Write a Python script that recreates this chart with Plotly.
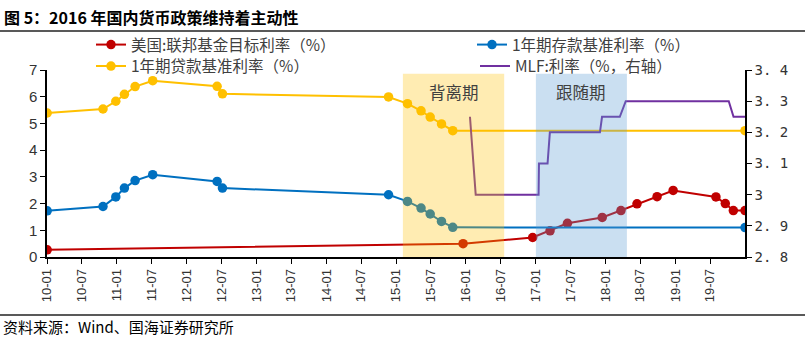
import plotly.graph_objects as go
import pandas as pd

# ---------------- data ----------------
fed_dates = ["2010-01-01", "2015-12-17", "2016-12-15", "2017-03-16", "2017-06-15",
             "2017-12-14", "2018-03-22", "2018-06-14", "2018-09-27", "2018-12-20",
             "2019-08-01", "2019-09-19", "2019-10-31", "2019-12-31"]
fed_rate = [0.27, 0.50, 0.73, 0.98, 1.26, 1.48, 1.74, 1.99, 2.26, 2.49, 2.25, 2.00, 1.74, 1.74]

cn_dates = ["2010-01-01", "2010-10-20", "2010-12-26", "2011-02-09", "2011-04-06",
            "2011-07-07", "2012-06-08", "2012-07-06", "2014-11-22", "2015-03-01",
            "2015-05-11", "2015-06-28", "2015-08-26", "2015-10-24", "2019-12-31"]
deposit_rate = [1.73, 1.89, 2.25, 2.58, 2.86, 3.08, 2.83, 2.58, 2.33, 2.08, 1.83, 1.61, 1.33, 1.11, 1.10]
loan_rate = [5.39, 5.54, 5.83, 6.09, 6.38, 6.60, 6.39, 6.11, 5.99, 5.74, 5.47, 5.24, 4.98, 4.73, 4.73]

mlf_dates = ["2016-01-22", "2016-02-21", "2017-01-15", "2017-01-17", "2017-03-03",
             "2017-03-15", "2017-12-02", "2017-12-13", "2018-03-16", "2018-04-16",
             "2019-10-07", "2019-11-01", "2019-12-31"]
mlf_rate = [3.25, 3.00, 3.00, 3.10, 3.10, 3.20, 3.20, 3.25, 3.25, 3.30, 3.30, 3.25, 3.25]

period_names = ["背离期", "跟随期"]
period_start = ["2015-02-05", "2017-01-01"]
period_end = ["2016-07-19", "2018-04-22"]

right_ticks = [2.8, 2.9, 3.0, 3.1, 3.2, 3.3, 3.4]
right_labels = ["2. 8", "2. 9", "3", "3. 1", "3. 2", "3. 3", "3. 4"]

series_names = ["美国:联邦基金目标利率（%）", "1年期贷款基准利率（%）",
                "1年期存款基准利率（%）", "MLF:利率（%，右轴）"]

RED, YEL, BLU, PUR = "#C00000", "#FFC000", "#0070C0", "#7030A0"
CJK = "Noto Sans CJK SC"

fig = go.Figure()
fig.add_trace(go.Scatter(x=fed_dates, y=fed_rate, name=series_names[0], mode="lines+markers",
                         line=dict(color=RED, width=2), marker=dict(size=9.5, color=RED),
                         legend="legend"))
fig.add_trace(go.Scatter(x=cn_dates, y=loan_rate, name=series_names[1], mode="lines+markers",
                         line=dict(color=YEL, width=2), marker=dict(size=9.5, color=YEL),
                         legend="legend3"))
fig.add_trace(go.Scatter(x=cn_dates, y=deposit_rate, name=series_names[2], mode="lines+markers",
                         line=dict(color=BLU, width=2), marker=dict(size=9.5, color=BLU),
                         legend="legend2"))
fig.add_trace(go.Scatter(x=mlf_dates, y=mlf_rate, name=series_names[3], mode="lines",
                         line=dict(color=PUR, width=2), yaxis="y2", legend="legend4"))

band_colors = ["rgba(255,192,0,0.3)", "rgba(91,155,213,0.32)"]
for i in range(2):
    fig.add_shape(type="rect", xref="x", yref="y", x0=period_start[i], x1=period_end[i],
                  y0=0, y1=6.86, fillcolor=band_colors[i], line=dict(width=0), layer="above")
    s = pd.Timestamp(period_start[i]); e = pd.Timestamp(period_end[i])
    fig.add_annotation(x=(s + (e - s) / 2).strftime("%Y-%m-%d"), xref="x", y=6.18, yref="y",
                       text=period_names[i], showarrow=False,
                       font=dict(family=CJK, size=16.5, color="#404040"))

W, H = 805, 337
ml, mr, mt, mb = 47, 60, 70, 80
pw, ph = W - ml - mr, H - mt - mb

def px2paper_x(px):
    return (px - ml) / pw

def px2paper_y(py):
    return (H - mb - py) / ph

# title and footer
fig.add_annotation(xref="paper", yref="paper", x=px2paper_x(2), y=px2paper_y(17),
                   xanchor="left", yanchor="middle", showarrow=False,
                   text="<b>图 5：2016 年国内货币政策维持着主动性</b>",
                   font=dict(family=CJK, size=16, color="#000000"))
fig.add_annotation(xref="paper", yref="paper", x=px2paper_x(1), y=px2paper_y(326),
                   xanchor="left", yanchor="middle", showarrow=False,
                   text="资料来源：Wind、国海证券研究所",
                   font=dict(family=CJK, size=15, color="#000000"))
for py in (31, 315):
    fig.add_shape(type="line", xref="paper", yref="paper", x0=px2paper_x(0), x1=px2paper_x(W),
                  y0=px2paper_y(py), y1=px2paper_y(py), line=dict(color="#222222", width=1.5))

def leg(xpx, ypx):
    return dict(xref="container", yref="container", x=xpx / W, y=1 - ypx / H,
                xanchor="left", yanchor="middle", bgcolor="rgba(0,0,0,0)",
                font=dict(family=CJK, size=15.5, color="#404040"))

fig.update_layout(
    width=W, height=H, margin=dict(l=ml, r=mr, t=mt, b=mb, autoexpand=False),
    paper_bgcolor="white", plot_bgcolor="white",
    xaxis=dict(type="date", range=["2009-12-31", "2019-12-31"], tickformat="%y-%m",
               dtick="M6", tick0="2010-01-01", tickangle=-90, ticks="outside", ticklen=5,
               tickcolor="black", showline=True, linecolor="black", linewidth=1.5,
               showgrid=False, zeroline=False,
               tickfont=dict(family="Liberation Sans", size=13, color="#333333")),
    yaxis=dict(range=[0, 7], dtick=1, ticks="outside", ticklen=5, tickcolor="black",
               showline=True, linecolor="black", linewidth=1.5, showgrid=False, zeroline=False,
               tickfont=dict(family="Liberation Sans", size=15, color="#333333")),
    yaxis2=dict(range=[2.8, 3.4], overlaying="y", side="right", tickvals=right_ticks,
                ticktext=right_labels, ticks="outside", ticklen=5, tickcolor="black",
                showline=True, linecolor="black", linewidth=1.5, showgrid=False, zeroline=False,
                tickfont=dict(family="DejaVu Sans Mono", size=14, color="#333333")),
    legend=leg(91, 45),
    legend2=leg(472, 45),
    legend3=leg(91, 66.5),
    legend4=leg(475, 66.5),
    showlegend=True,
)

fig.write_html("out.html")
